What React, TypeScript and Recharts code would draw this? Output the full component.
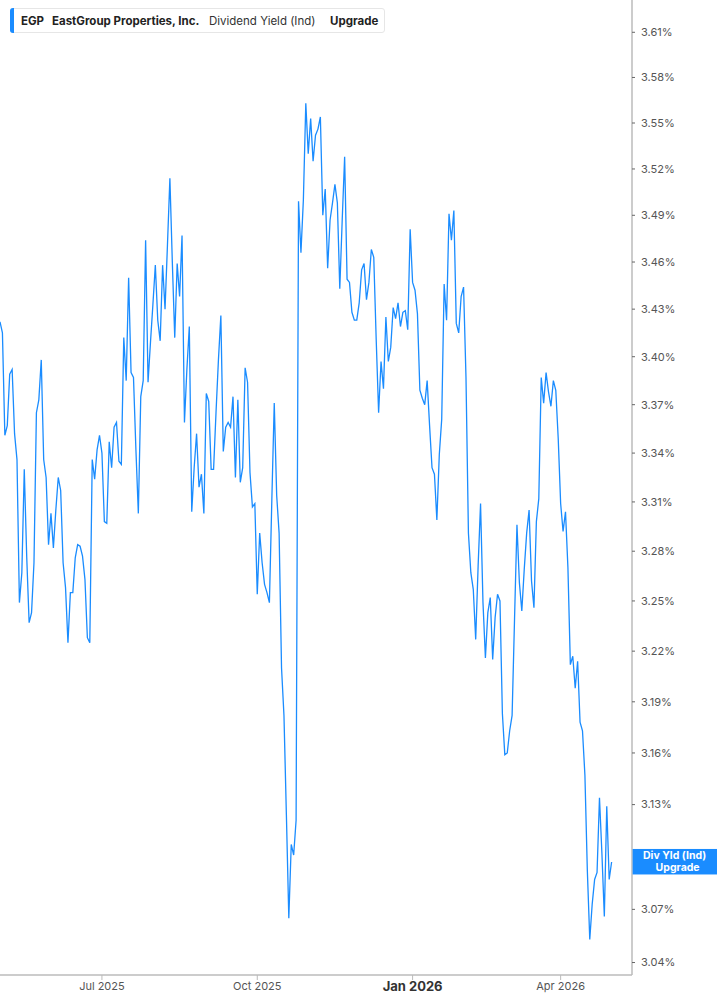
import React from "react";
import { LineChart, Line, XAxis, YAxis, ReferenceDot } from "recharts";

// Dividend yield (Ind), one value per trading day, May 2025 -> Apr 2026
const yieldValues: number[] = [
  3.422, 3.415, 3.351, 3.357, 3.389, 3.392, 3.352, 3.336, 3.249, 3.267, 3.330,
  3.277, 3.237, 3.243, 3.273, 3.365, 3.373, 3.398, 3.336, 3.325, 3.284,
  3.303, 3.282, 3.305, 3.325, 3.317, 3.273, 3.258, 3.225, 3.255, 3.255,
  3.276, 3.284, 3.283, 3.277, 3.263, 3.228, 3.225, 3.336, 3.324, 3.342,
  3.351, 3.340, 3.298, 3.297, 3.347, 3.331, 3.356, 3.359, 3.335, 3.333,
  3.412, 3.385, 3.450, 3.390, 3.387, 3.342, 3.303, 3.375, 3.385, 3.474,
  3.384, 3.409, 3.433, 3.458, 3.423, 3.410, 3.458, 3.430, 3.471, 3.514,
  3.460, 3.412, 3.459, 3.438, 3.477, 3.359, 3.392, 3.419, 3.304, 3.331,
  3.352, 3.319, 3.327, 3.303, 3.377, 3.372, 3.330, 3.330, 3.365, 3.398,
  3.426, 3.341, 3.356, 3.359, 3.356, 3.375, 3.325, 3.373, 3.322, 3.331,
  3.393, 3.384, 3.328, 3.307, 3.309, 3.254, 3.291, 3.273, 3.260, 3.255,
  3.249, 3.311, 3.371, 3.314, 3.291, 3.210, 3.182, 3.124, 3.065, 3.107,
  3.101, 3.121, 3.499, 3.466, 3.500, 3.563, 3.530, 3.553, 3.525, 3.542,
  3.546, 3.554, 3.490, 3.507, 3.456, 3.487, 3.498, 3.510, 3.498, 3.443,
  3.487, 3.528, 3.449, 3.447, 3.428, 3.423, 3.423, 3.434, 3.455, 3.459,
  3.436, 3.447, 3.468, 3.463, 3.411, 3.365, 3.397, 3.380, 3.425, 3.397,
  3.406, 3.431, 3.424, 3.434, 3.419, 3.428, 3.429, 3.417, 3.481, 3.447,
  3.442, 3.427, 3.379, 3.374, 3.370, 3.385, 3.357, 3.331, 3.327, 3.299,
  3.339, 3.361, 3.446, 3.423, 3.491, 3.474, 3.493, 3.421, 3.415, 3.438,
  3.444, 3.387, 3.291, 3.267, 3.257, 3.227, 3.271, 3.309, 3.249, 3.216,
  3.243, 3.252, 3.215, 3.240, 3.254, 3.250, 3.183, 3.159, 3.160, 3.173,
  3.182, 3.239, 3.296, 3.261, 3.244, 3.269, 3.291, 3.305, 3.262, 3.246,
  3.298, 3.312, 3.387, 3.371, 3.390, 3.378, 3.369, 3.385, 3.379, 3.349,
  3.309, 3.292, 3.304, 3.270, 3.212, 3.217, 3.198, 3.214, 3.178, 3.173,
  3.147, 3.092, 3.053, 3.073, 3.087, 3.091, 3.134, 3.102, 3.066, 3.129, 3.087, 3.097,
];

const xTickIndex: number[] = [42, 106, 170, 231];
const xTickLabels: string[] = ["Jul 2025", "Oct 2025", "Jan 2026", "Apr 2026"];
const boldTickLabel = "Jan 2026";
const yTicks: number[] = [
  3.04, 3.07, 3.13, 3.16, 3.19, 3.22, 3.25, 3.28, 3.31, 3.34, 3.37, 3.4, 3.43,
  3.46, 3.49, 3.52, 3.55, 3.58, 3.61,
];
const yDomain: [number, number] = [3.033, 3.6316];
const xDomain: [number, number] = [0, 260.4];

const tickerText = "EGP";
const companyText = "EastGroup Properties, Inc.";
const metricText = "Dividend Yield (Ind)";
const upgradeText = "Upgrade";
const endLabelTop = "Div Yld (Ind)";
const endLabelBottom = "Upgrade";

const BLUE = "#1a8cff";
const FONT = "Inter, 'Noto Sans', sans-serif";

const data = yieldValues.map((v, i) => ({ i, v }));
const lastIndex = yieldValues.length - 1;
const lastValue = yieldValues[lastIndex];

const XTick = (props: any) => {
  const { x, y, payload } = props;
  const k = xTickIndex.indexOf(payload.value);
  const label = xTickLabels[k];
  const bold = label === boldTickLabel;
  return (
    <text
      x={x}
      y={y}
      dy="0.71em"
      textAnchor="middle"
      fill={bold ? "#333" : "#555"}
      fontSize={bold ? 13 : 11}
      fontWeight={bold ? 700 : 400}
      fontFamily={FONT}
    >
      {label}
    </text>
  );
};

const EndLabel = (props: any) => {
  const { cx, cy } = props;
  if (cx == null || cy == null) return null;
  const left = cx + 21;
  return (
    <g>
      <rect x={left} y={cy - 13} width={90} height={25.5} fill={BLUE} />
      <text
        x={left + 42}
        y={cy - 6}
        textAnchor="middle"
        fill="#fff"
        fontSize={10.5}
        fontWeight={700}
        fontFamily={FONT}
        dominantBaseline="middle"
      >
        {endLabelTop}
      </text>
      <text
        x={left + 45}
        y={cy + 6}
        textAnchor="middle"
        fill="#fff"
        fontSize={10.5}
        fontWeight={700}
        fontFamily={FONT}
        dominantBaseline="middle"
      >
        {endLabelBottom}
      </text>
    </g>
  );
};

export default function App() {
  return (
    <div
      style={{
        position: "absolute",
        left: 0,
        top: 0,
        width: 717,
        height: 1005,
        background: "#fff",
        fontFamily: FONT,
      }}
    >
      <LineChart
        width={717}
        height={1005}
        data={data}
        margin={{ top: 0, right: 0, bottom: 0, left: 0 }}
      >
        <XAxis
          dataKey="i"
          type="number"
          domain={xDomain}
          ticks={xTickIndex}
          allowDataOverflow
          height={30}
          tickSize={5}
          tickMargin={2}
          axisLine={{ stroke: "#bbb", strokeWidth: 1.5 }}
          tickLine={{ stroke: "#bbb" }}
          tick={<XTick />}
          interval={0}
        />
        <YAxis
          orientation="right"
          type="number"
          scale="log"
          domain={yDomain}
          ticks={yTicks}
          allowDataOverflow
          width={85}
          tickSize={3}
          tickMargin={6}
          interval={0}
          axisLine={{ stroke: "#bbb", strokeWidth: 1.5 }}
          tickLine={{ stroke: "#666" }}
          tick={{ fill: "#555", fontSize: 11, fontFamily: FONT }}
          tickFormatter={(v: number) => v.toFixed(2) + "%"}
        />
        <Line
          type="linear"
          dataKey="v"
          stroke={BLUE}
          strokeWidth={1.3}
          dot={false}
          activeDot={false}
          isAnimationActive={false}
        />
        <ReferenceDot
          x={lastIndex}
          y={lastValue}
          r={0}
          ifOverflow="visible"
          shape={<EndLabel />}
        />
      </LineChart>

      <div
        style={{
          position: "absolute",
          left: 10,
          top: 8,
          width: 375,
          height: 25,
          boxSizing: "border-box",
          border: "1px solid #e6e6e6",
          borderRadius: 3,
          background: "#fff",
          fontSize: 11.5,
          color: "#222",
        }}
      >
        <div
          style={{
            position: "absolute",
            left: -1,
            top: -1,
            width: 4,
            height: 25,
            background: BLUE,
            borderRadius: "3px 0 0 3px",
          }}
        />
        <span style={{ position: "absolute", left: 10, top: 5, fontWeight: 700 }}>
          {tickerText}
        </span>
        <span style={{ position: "absolute", left: 41, top: 5, fontWeight: 700 }}>
          {companyText}
        </span>
        <span style={{ position: "absolute", left: 198, top: 5, fontWeight: 400, color: "#333" }}>
          {metricText}
        </span>
        <span style={{ position: "absolute", left: 319, top: 5, fontWeight: 700 }}>
          {upgradeText}
        </span>
      </div>
    </div>
  );
}
